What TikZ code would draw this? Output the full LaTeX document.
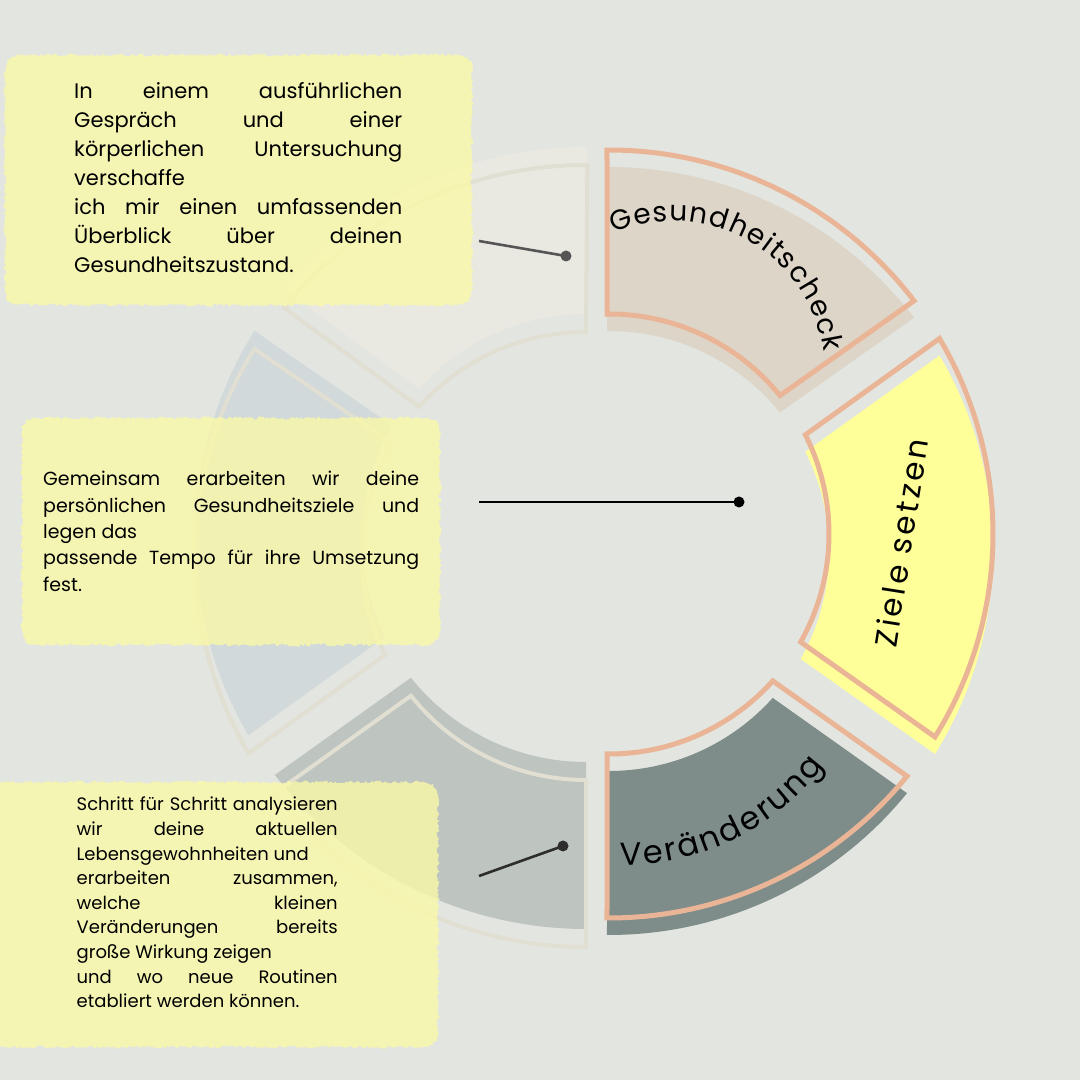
\documentclass[tikz,border=0pt]{standalone}
\usepackage{fontspec}
\setmainfont{Poppins}
\newfontfamily\spacedfont[LetterSpace=10]{Poppins}
\usetikzlibrary{calc,decorations.text,decorations.pathmorphing}

\definecolor{bg}{RGB}{227,229,224}
\definecolor{salmon}{RGB}{234,181,150}
\definecolor{beige}{RGB}{221,213,200}
\definecolor{lemon}{RGB}{255,255,153}
\definecolor{slate}{RGB}{126,140,138}
\definecolor{paleA}{RGB}{233,233,226}
\definecolor{paleB}{RGB}{209,217,219}
\definecolor{paleC}{RGB}{190,196,192}
\definecolor{paleline}{RGB}{225,222,210}
\definecolor{note}{RGB}{250,249,168}
\definecolor{ptrA}{RGB}{85,85,85}
\definecolor{ptrC}{RGB}{45,45,45}

\newlength{\jw}
\newcommand{\jline}[1]{\makebox[\jw][s]{#1}}
% ring piece: centre, outer r, inner r, outer from/to, inner from/to
\newcommand{\ringpiece}[7]{($(#1)+(#4:#2)$) arc[start angle=#4,end angle=#5,radius=#2] -- ($(#1)+(#6:#3)$) arc[start angle=#6,end angle=#7,radius=#3] -- cycle}
% note card: left, bottom, right, top (corner radius 14)
\newcommand{\notecard}[4]{({#1+14},#4) -- ({#3-14},#4) arc[start angle=90,end angle=0,radius=14] -- (#3,{#2+14}) arc[start angle=0,end angle=-90,radius=14] -- ({#1+14},#2) arc[start angle=270,end angle=180,radius=14] -- (#1,{#4-14}) arc[start angle=180,end angle=90,radius=14] -- cycle}

\tikzset{
  segline/.style={draw=salmon,line width=5},
  paleedge/.style={draw=paleline,line width=4},
  notebox/.style={fill=note,fill opacity=0.8,decorate,
    decoration={random steps,segment length=2pt,amplitude=1.6pt}},
  boxtext/.style={anchor=base west,inner sep=0},
  pointer/.style={line width=2.6},
  dot/.style={circle,fill,inner sep=0,minimum size=11},
}

\begin{document}
\begin{tikzpicture}[x=1pt,y=1pt]
\useasboundingbox (0,0) rectangle (1080,1080);
\clip (0,0) rectangle (1080,1080);
\fill[bg] (0,0) rectangle (1080,1080);

% left half, faded
\fill[paleA] \ringpiece{586,542}{391}{224}{89.8}{140.6}{138.2}{90};
\draw[paleedge] \ringpiece{586,524}{391}{224}{89.8}{140.6}{138.2}{90};
\fill[paleB] \ringpiece{586,542}{391}{224}{148.0}{210.3}{206.2}{149.9};
\draw[paleedge] \ringpiece{586,524}{391}{224}{148.0}{210.3}{206.2}{149.9};
\fill[paleC] \ringpiece{586,542}{391}{224}{217.3}{270}{270}{218.6};
\draw[paleedge] \ringpiece{586,524}{391}{224}{217.3}{270}{270}{218.6};

% right half
\fill[beige] \ringpiece{609,529}{384}{220}{90.3}{37.4}{39.0}{90.5};
\draw[segline] \ringpiece{609,546}{384}{220}{90.3}{37.4}{39.0}{90.5};
\fill[lemon] \ringpiece{609,529}{384}{220}{30.6}{-31.9}{-29.4}{26.8};
\draw[segline] \ringpiece{609,546}{384}{220}{30.6}{-31.9}{-29.4}{26.8};
\fill[slate] \ringpiece{609,529}{384}{220}{-39.1}{-90.3}{-90.5}{-41.9};
\draw[segline] \ringpiece{609,546}{384}{220}{-39.1}{-90.3}{-90.5}{-41.9};

% labels on the ring
\path[decorate,decoration={text along path,text align={fit to path},
  text={|\fontsize{28}{28}\selectfont|Gesundheitscheck}}]
  (673,707) ++(113:152) arc[start angle=113,end angle=8,radius=152];
\node[rotate=81,inner sep=0,font=\spacedfont\fontsize{31}{31}\selectfont] (ziele) at (901,537) {Ziele setzen};
\path[decorate,decoration={text along path,text align={fit to path},
  text={|\fontsize{32}{32}\selectfont|Veränderung}}]
  (625,464) ++(-91:249) arc[start angle=-91,end angle=-37,radius=249];

% notes
\fill[notebox] \notecard{5}{775}{472}{1025};
\fill[notebox] \notecard{22}{435}{440}{662};
\fill[notebox] \notecard{-20}{33}{438}{298};

\setlength{\jw}{328pt}
\foreach \t [count=\i] in {\jline{In einem ausführlichen},\jline{Gespräch und einer},
  \jline{körperlichen Untersuchung},verschaffe,\jline{ich mir einen umfassenden},
  \jline{Überblick über deinen},Gesundheitszustand.}
  \node[boxtext,font=\fontsize{21}{24}\selectfont] (check\i) at (74,{981-29*(\i-1)}) {\t};

\setlength{\jw}{376pt}
\foreach \t [count=\i] in {\jline{Gemeinsam erarbeiten wir deine},
  \jline{persönlichen Gesundheitsziele und},legen das,
  \jline{passende Tempo für ihre Umsetzung},fest.}
  \node[boxtext,font=\fontsize{19}{24}\selectfont] (ziel\i) at (43,{594-26.3*(\i-1)}) {\t};

\setlength{\jw}{261pt}
\foreach \t [count=\i] in {\jline{Schritt für Schritt analysieren},\jline{wir deine aktuellen},
  Lebensgewohnheiten und,{\jline{erarbeiten zusammen,}},\jline{welche kleinen},
  \jline{Veränderungen bereits},große Wirkung zeigen,\jline{und wo neue Routinen},
  etabliert werden können.}
  \node[boxtext,font=\fontsize{18}{22}\selectfont] (wandel\i) at (76.5,{269-24.6*(\i-1)}) {\t};

% pointers
\coordinate (p1) at (479,839);
\node[dot,fill=ptrA] (d1) at (566,824) {};
\draw[pointer,ptrA] (p1) -- (d1.center);
\coordinate (p2) at (479,578);
\node[dot,fill=black] (d2) at (739,578) {};
\draw[pointer] (p2) -- (d2.center);
\coordinate (p3) at (479,204);
\node[dot,fill=ptrC] (d3) at (563,234) {};
\draw[pointer,ptrC] (p3) -- (d3.center);
\end{tikzpicture}
\end{document}
